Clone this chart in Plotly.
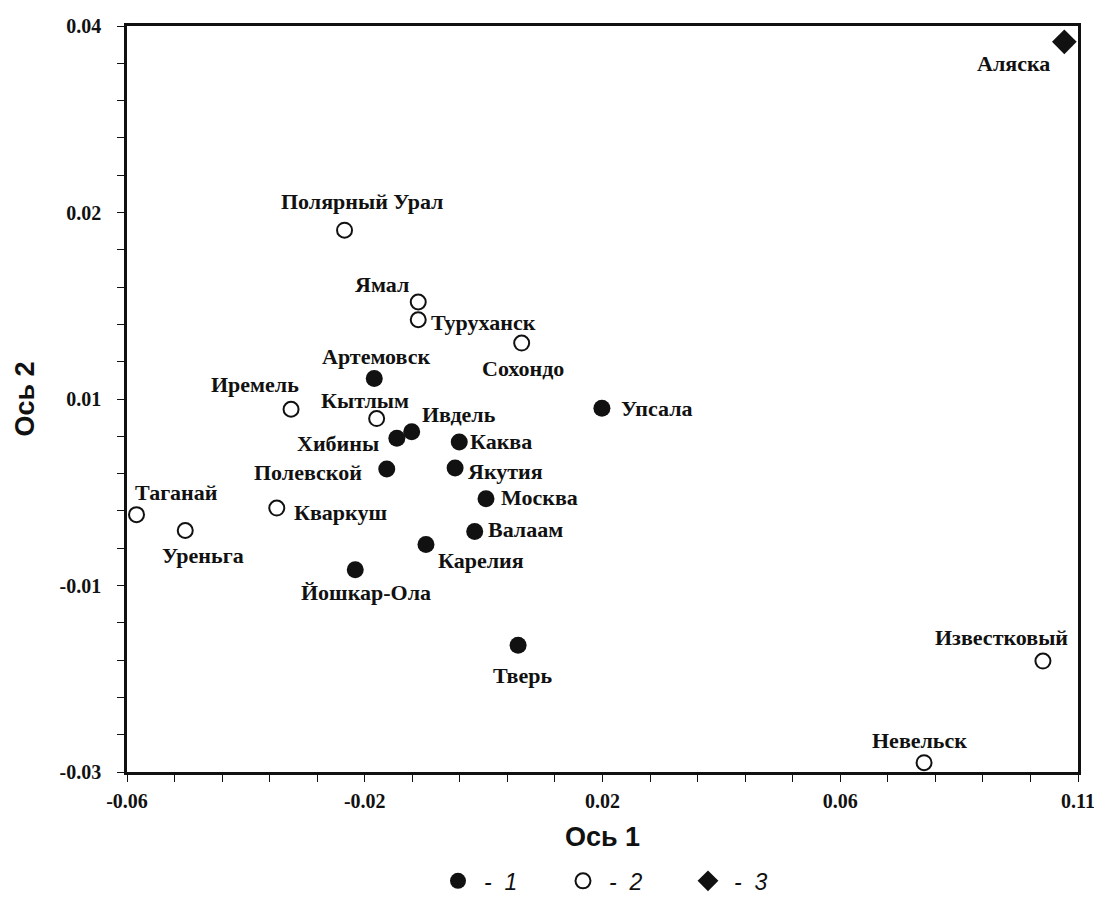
import plotly.graph_objects as go

# Site ordination scores (axis 1, axis 2) by group
group1_names = ["Артемовск", "Ивдель", "Хибины", "Каква", "Полевской", "Якутия",
                "Москва", "Валаам", "Карелия", "Йошкар-Ола", "Упсала", "Тверь"]
group1_x = [-0.0184, -0.0121, -0.0146, -0.0041, -0.0163, -0.0048,
            0.0004, -0.0015, -0.0097, -0.0216, 0.0199, 0.0058]
group1_y = [0.0022, -0.0035, -0.0042, -0.0046, -0.0075, -0.0074,
            -0.0107, -0.0142, -0.0156, -0.0183, -0.0010, -0.0264]

group2_names = ["Полярный Урал", "Ямал", "Туруханск", "Сохондо", "Иремель", "Кытлым",
                "Кваркуш", "Таганай", "Уреньга", "Известковый", "Невельск"]
group2_x = [-0.0234, -0.0110, -0.0110, 0.0064, -0.0324, -0.0180,
            -0.0348, -0.0584, -0.0502, 0.0941, 0.0741]
group2_y = [0.0181, 0.0104, 0.0085, 0.0060, -0.0011, -0.0021,
            -0.0117, -0.0124, -0.0141, -0.0281, -0.0390]

group3_names = ["Аляска"]
group3_x = [0.0977]
group3_y = [0.0383]

# Axis tick positions and their printed labels
x_tickvals = [-0.06, -0.02, 0.02, 0.06, 0.10]
x_ticktext = ["-0.06", "-0.02", "0.02", "0.06", "0.11"]
y_tickvals = [0.04, 0.02, 0.00, -0.02, -0.04]
y_ticktext = ["0.04", "0.02", "0.01", "-0.01", "-0.03"]

# Label placement: (xanchor, xshift, yshift) in pixels relative to the marker
label_pos = {
    "Артемовск": ("center", 2, 22), "Ивдель": ("left", 8, 17), "Хибины": ("right", -16, -5),
    "Каква": ("left", 9, 0), "Полевской": ("right", -23, -4), "Якутия": ("left", 11, -3),
    "Москва": ("left", 13, 1), "Валаам": ("left", 11, 2), "Карелия": ("left", 10, -16),
    "Йошкар-Ола": ("center", 11, -23), "Упсала": ("left", 17, 0), "Тверь": ("center", 4, -30),
    "Полярный Урал": ("center", 17, 29), "Ямал": ("center", -36, 18), "Туруханск": ("left", 11, -3),
    "Сохондо": ("center", 1, -25), "Иремель": ("center", -36, 25), "Кытлым": ("center", -12, 18),
    "Кваркуш": ("left", 15, -4), "Таганай": ("center", 40, 22), "Уреньга": ("center", 18, -25),
    "Известковый": ("center", -41, 24), "Невельск": ("center", -5, 22), "Аляска": ("center", -51, -22),
}

ink = "#111111"
fig = go.Figure()

fig.add_trace(go.Scatter(
    x=group1_x, y=group1_y, mode="markers", name="-  1", cliponaxis=False,
    marker=dict(symbol="circle", size=17, color=ink, line=dict(width=0)),
))
fig.add_trace(go.Scatter(
    x=group2_x, y=group2_y, mode="markers", name="-  2", cliponaxis=False,
    marker=dict(symbol="circle", size=15, color="white", line=dict(width=2, color=ink)),
))
fig.add_trace(go.Scatter(
    x=group3_x, y=group3_y, mode="markers", name="-  3", cliponaxis=False,
    marker=dict(symbol="diamond", size=19, color=ink, line=dict(width=0)),
))

annotations = []
for names, xs, ys in [(group1_names, group1_x, group1_y),
                      (group2_names, group2_x, group2_y),
                      (group3_names, group3_x, group3_y)]:
    for n, xv, yv in zip(names, xs, ys):
        anchor, dx, dy = label_pos[n]
        annotations.append(dict(
            x=xv, y=yv, xref="x", yref="y", text=n, showarrow=False,
            xanchor=anchor, yanchor="middle", xshift=dx, yshift=dy,
            font=dict(family="Liberation Serif", size=22, color=ink, weight="bold"),
        ))

tick_font = dict(family="Liberation Serif", size=20, color=ink, weight="bold")
title_font = dict(family="Liberation Sans", size=27, color=ink, weight="bold")

fig.update_layout(
    width=1094, height=897, autosize=False,
    margin=dict(l=127, r=16, t=26, b=125, autoexpand=False),
    paper_bgcolor="white", plot_bgcolor="white",
    annotations=annotations,
    showlegend=True,
    legend=dict(
        orientation="h", x=0.3207, xanchor="left", y=-0.146, yanchor="middle",
        font=dict(family="Liberation Sans", size=23, color=ink, style="italic"),
        entrywidth=68, entrywidthmode="pixels", itemsizing="trace", itemwidth=42,
        bgcolor="rgba(0,0,0,0)",
    ),
    xaxis=dict(
        range=[-0.06, 0.10], showgrid=False, zeroline=False,
        showline=True, mirror=True, linecolor=ink, linewidth=2.5,
        tickmode="array", tickvals=x_tickvals, ticktext=x_ticktext,
        ticks="outside", ticklen=7, tickwidth=1.2, tickcolor=ink,
        tickfont=tick_font, ticklabelstandoff=2, ticklabeloverflow="allow",
        minor=dict(tick0=-0.06, dtick=0.008, ticks="outside", ticklen=7,
                   tickwidth=1.2, tickcolor=ink, showgrid=False),
        title=dict(text="Ось 1", font=title_font, standoff=17),
        automargin=False,
    ),
    yaxis=dict(
        range=[-0.04, 0.04], showgrid=False, zeroline=False,
        showline=True, mirror=True, linecolor=ink, linewidth=2.5,
        tickmode="array", tickvals=y_tickvals, ticktext=y_ticktext,
        ticks="outside", ticklen=7, tickwidth=1.2, tickcolor=ink,
        tickfont=tick_font, ticklabelstandoff=12, ticklabeloverflow="allow",
        minor=dict(tick0=-0.04, dtick=0.004, ticks="outside", ticklen=7,
                   tickwidth=1.2, tickcolor=ink, showgrid=False),
        title=dict(text="Ось 2", font=title_font, standoff=18),
        automargin=False,
    ),
)

fig.write_html("out.html")
